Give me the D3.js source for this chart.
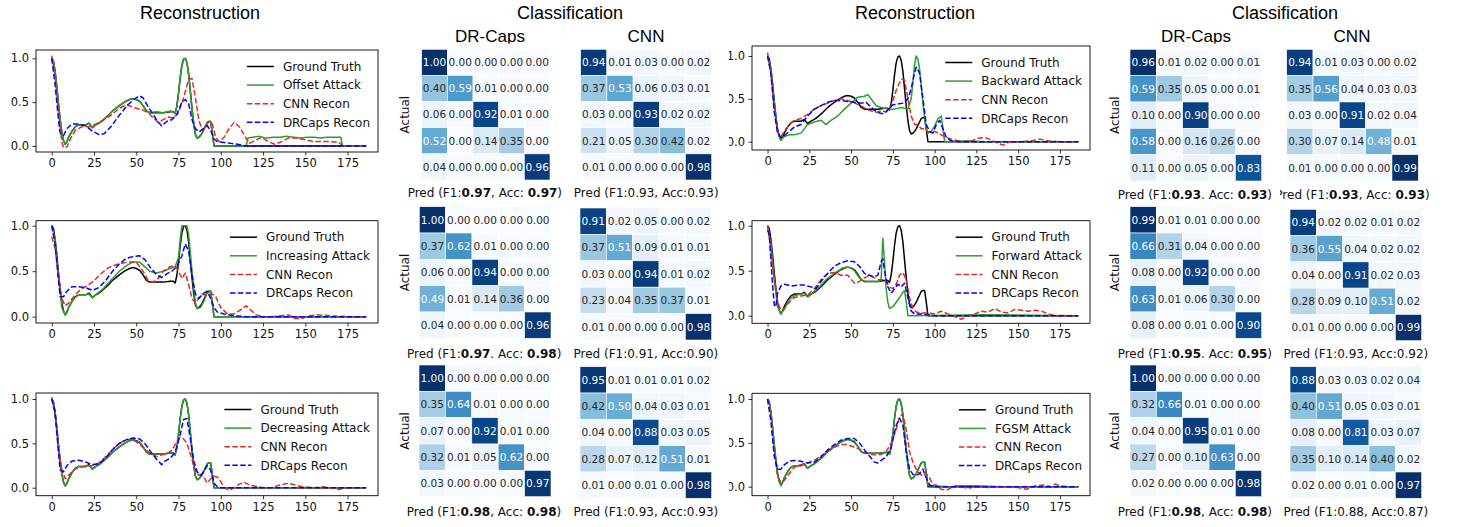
<!DOCTYPE html>
<html><head><meta charset="utf-8">
<script src="https://cdn.jsdelivr.net/npm/d3@7"></script>
<style>body{margin:0;background:#fff}</style>
</head><body>
<script>
// ---------------- DATA ----------------
const xTicks = [0, 25, 50, 75, 100, 125, 150, 175];
const yTicks = [0.0, 0.5, 1.0];
const yTickLabels = ["0.0", "0.5", "1.0"];
const legendNames = ["Ground Truth", "CNN Recon", "DRCaps Recon"];
const attackNames = ["Offset Attack", "Increasing Attack", "Decreasing Attack", "Backward Attack", "Forward Attack", "FGSM Attack"];
const sectionTitles = ["Reconstruction", "Classification", "Reconstruction", "Classification"];
const modelNames = ["DR-Caps", "CNN"];

const groundTruth = [[0,1.0],[1,0.97],[2,0.85],[3,0.68],[4,0.48],[5,0.3],[6,0.15],[7,0.06],[8,0.02],[9,0.05],[10,0.1],[12,0.17],[14,0.22],[16,0.24],[18,0.24],[20,0.24],[22,0.26],[24,0.21],[26,0.24],[28,0.26],[30,0.29],[33,0.34],[36,0.4],[40,0.46],[43,0.5],[46,0.53],[48,0.54],[50,0.53],[52,0.51],[54,0.46],[56,0.4],[58,0.38],[62,0.38],[66,0.38],[70,0.39],[72,0.39],[73,0.37],[74,0.45],[75,0.6],[76,0.78],[77,0.92],[78,0.99],[79,1.0],[80,0.95],[81,0.82],[82,0.62],[83,0.42],[84,0.25],[85,0.13],[86,0.09],[87,0.1],[88,0.12],[89,0.15],[90,0.19],[91,0.23],[92,0.27],[93,0.28],[94,0.28],[95,0.15],[96,0.0],[186,0.0]];

const offsetAttack = [[0,1.0],[1,0.97],[2,0.85],[3,0.68],[4,0.48],[5,0.3],[6,0.15],[7,0.06],[8,0.02],[9,0.05],[10,0.1],[12,0.17],[14,0.22],[16,0.24],[18,0.24],[20,0.24],[22,0.26],[24,0.21],[26,0.24],[28,0.26],[30,0.29],[33,0.34],[36,0.4],[40,0.46],[43,0.5],[46,0.53],[48,0.54],[50,0.53],[52,0.51],[54,0.46],[56,0.4],[58,0.38],[62,0.39],[66,0.38],[70,0.4],[72,0.39],[73,0.37],[74,0.45],[75,0.6],[76,0.78],[77,0.92],[78,0.99],[79,1.0],[80,0.95],[81,0.82],[82,0.62],[83,0.42],[84,0.25],[85,0.13],[86,0.09],[87,0.1],[88,0.12],[89,0.15],[90,0.19],[91,0.23],[92,0.27],[93,0.28],[94,0.28],[95,0.15],[96,0.0],[115,0.0],[116,0.09],[119,0.1],[123,0.11],[127,0.09],[131,0.1],[135,0.1],[139,0.11],[143,0.1],[147,0.09],[151,0.1],[155,0.1],[159,0.09],[163,0.1],[167,0.1],[171,0.1],[172,0.0],[186,0.0]];
const cnnOffset = [[0,1.03],[2,0.8],[4,0.4],[6,0.05],[7,-0.02],[9,-0.01],[11,0.08],[14,0.18],[18,0.22],[22,0.22],[26,0.25],[30,0.29],[35,0.35],[40,0.43],[44,0.47],[47,0.45],[50,0.43],[54,0.41],[57,0.38],[60,0.32],[63,0.27],[66,0.3],[69,0.33],[72,0.32],[75,0.38],[78,0.55],[81,0.76],[83,0.77],[85,0.55],[87,0.3],[89,0.18],[91,0.22],[93,0.28],[95,0.25],[97,0.1],[99,0.05],[102,0.1],[105,0.2],[108,0.27],[111,0.22],[114,0.12],[117,0.03],[120,0.06],[124,0.1],[128,0.05],[132,0.02],[136,0.05],[140,0.09],[145,0.09],[150,0.07],[155,0.05],[160,0.05],[165,0.05],[170,0.04],[172,0.0],[176,0.0],[186,0.0]];
const drOffset = [[0,1.0],[2,0.7],[4,0.3],[5,0.15],[7,0.12],[9,0.2],[12,0.25],[16,0.25],[20,0.23],[24,0.17],[28,0.13],[31,0.14],[35,0.22],[40,0.35],[45,0.47],[50,0.55],[52,0.57],[54,0.55],[57,0.45],[60,0.36],[63,0.27],[65,0.23],[68,0.28],[71,0.3],[74,0.36],[77,0.5],[79,0.53],[81,0.48],[83,0.3],[85,0.2],[87,0.16],[90,0.2],[92,0.23],[94,0.18],[96,0.08],[98,0.05],[102,0.04],[106,0.03],[110,0.02],[115,0.0],[186,0.0]];

const increasingAttack = [[0,1.0],[2,0.85],[4,0.45],[6,0.1],[8,0.02],[10,0.1],[13,0.2],[16,0.24],[20,0.24],[22,0.25],[24,0.21],[26,0.24],[30,0.3],[35,0.4],[40,0.5],[45,0.57],[48,0.6],[52,0.6],[55,0.55],[58,0.5],[62,0.48],[66,0.5],[70,0.53],[73,0.55],[75,0.65],[76,0.85],[77,1.0],[80,1.0],[81,0.9],[83,0.5],[85,0.15],[86,0.09],[88,0.1],[90,0.17],[92,0.26],[94,0.28],[95,0.15],[96,0.0],[186,0.0]];
const cnnIncreasing = [[0,0.88],[2,0.75],[4,0.45],[6,0.2],[8,0.12],[10,0.15],[13,0.22],[16,0.28],[20,0.33],[24,0.38],[28,0.45],[32,0.52],[36,0.56],[40,0.58],[45,0.6],[50,0.6],[54,0.5],[57,0.4],[60,0.38],[63,0.42],[66,0.5],[70,0.55],[73,0.56],[75,0.5],[77,0.42],[79,0.48],[81,0.35],[83,0.2],[85,0.15],[87,0.2],[89,0.25],[92,0.23],[95,0.25],[97,0.22],[100,0.1],[104,0.03],[108,0.03],[112,0.08],[115,0.12],[118,0.07],[121,0.02],[125,0.0],[130,0.0],[135,0.01],[140,0.02],[144,-0.02],[148,-0.02],[152,0.01],[158,0.02],[165,0.01],[175,0.0],[186,0.0]];
const drIncreasing = [[0,1.0],[2,0.8],[4,0.4],[5,0.22],[7,0.22],[9,0.28],[12,0.33],[16,0.33],[20,0.32],[24,0.29],[28,0.32],[32,0.4],[36,0.5],[40,0.58],[44,0.64],[48,0.66],[52,0.67],[55,0.63],[58,0.55],[62,0.46],[65,0.43],[68,0.47],[71,0.5],[74,0.55],[77,0.67],[79,0.8],[81,0.72],[83,0.45],[85,0.25],[87,0.2],[90,0.26],[92,0.28],[94,0.2],[96,0.1],[98,0.05],[102,0.03],[108,0.01],[115,0.0],[186,0.0]];

const decreasingAttack = [[0,1.0],[1,0.97],[2,0.85],[3,0.68],[4,0.48],[5,0.3],[6,0.15],[7,0.06],[8,0.02],[9,0.05],[10,0.1],[12,0.17],[14,0.22],[16,0.24],[18,0.24],[20,0.24],[22,0.25],[24,0.21],[26,0.24],[28,0.26],[30,0.29],[33,0.34],[36,0.4],[40,0.46],[43,0.5],[46,0.53],[48,0.54],[50,0.52],[52,0.52],[54,0.46],[56,0.4],[58,0.38],[62,0.38],[66,0.38],[70,0.39],[72,0.39],[73,0.37],[74,0.45],[75,0.6],[76,0.78],[77,0.92],[78,0.99],[79,1.0],[80,0.95],[81,0.82],[82,0.62],[83,0.42],[84,0.25],[85,0.13],[86,0.09],[87,0.1],[88,0.12],[89,0.15],[90,0.19],[91,0.23],[92,0.27],[93,0.28],[94,0.28],[95,0.15],[96,0.0],[186,0.0]];
const cnnDecreasing = [[0,1.02],[2,0.8],[4,0.45],[6,0.2],[8,0.1],[10,0.14],[13,0.2],[16,0.23],[20,0.24],[24,0.25],[28,0.28],[32,0.35],[36,0.43],[40,0.5],[44,0.54],[47,0.55],[50,0.52],[53,0.47],[56,0.42],[59,0.38],[62,0.35],[65,0.37],[68,0.38],[71,0.42],[74,0.52],[76,0.57],[78,0.55],[80,0.5],[82,0.38],[84,0.25],[86,0.15],[88,0.14],[90,0.12],[92,0.05],[94,0.1],[96,0.13],[98,0.12],[100,0.07],[102,0.0],[105,-0.03],[108,0.0],[111,0.04],[114,0.06],[117,0.03],[120,0.02],[125,0.0],[130,0.0],[135,0.03],[140,0.05],[144,0.03],[148,0.01],[155,0.0],[160,0.01],[165,0.0],[170,-0.02],[175,0.0],[186,0.0]];
const drDecreasing = [[0,1.0],[2,0.85],[4,0.4],[5,0.2],[7,0.18],[9,0.25],[12,0.3],[16,0.31],[20,0.29],[24,0.26],[28,0.27],[32,0.34],[36,0.43],[40,0.5],[44,0.54],[48,0.56],[52,0.55],[55,0.5],[58,0.42],[62,0.32],[65,0.26],[67,0.3],[70,0.33],[73,0.4],[76,0.6],[78,0.77],[80,0.78],[82,0.55],[84,0.3],[86,0.18],[88,0.14],[90,0.18],[92,0.25],[94,0.2],[96,0.05],[98,0.01],[100,0.0],[186,0.0]];

const backwardAttack = [[0,1.0],[2,0.85],[4,0.45],[6,0.12],[8,0.02],[10,0.06],[13,0.08],[16,0.08],[20,0.1],[24,0.2],[28,0.23],[32,0.25],[35,0.2],[38,0.25],[42,0.3],[46,0.38],[50,0.45],[54,0.52],[58,0.53],[60,0.55],[62,0.5],[65,0.42],[68,0.4],[72,0.38],[76,0.38],[80,0.4],[84,0.38],[86,0.5],[87,0.7],[88,0.9],[89,1.0],[90,0.96],[91,0.85],[92,0.65],[93,0.45],[94,0.27],[95,0.15],[96,0.1],[98,0.12],[100,0.18],[102,0.27],[104,0.3],[105,0.15],[106,0.0],[120,0.01],[130,0.0],[186,0.0]];
const cnnBackward = [[0,1.04],[2,0.8],[4,0.4],[6,0.12],[8,0.05],[10,0.12],[13,0.2],[16,0.25],[20,0.27],[24,0.32],[28,0.38],[32,0.42],[36,0.45],[40,0.48],[44,0.5],[48,0.48],[52,0.45],[56,0.42],[59,0.38],[62,0.36],[65,0.34],[68,0.36],[71,0.35],[74,0.42],[77,0.6],[80,0.73],[82,0.72],[84,0.5],[86,0.3],[88,0.2],[90,0.2],[92,0.15],[94,0.15],[96,0.12],[98,0.1],[100,0.12],[102,0.1],[104,0.08],[107,0.05],[110,0.03],[114,0.01],[118,0.0],[122,0.01],[126,0.04],[130,0.05],[134,0.02],[138,-0.02],[141,-0.04],[144,-0.01],[150,0.0],[158,0.01],[163,0.03],[168,0.01],[175,0.0],[186,0.0]];
const drBackward = [[0,1.0],[2,0.8],[4,0.35],[6,0.1],[8,0.05],[10,0.07],[13,0.12],[16,0.17],[20,0.2],[24,0.3],[28,0.38],[32,0.42],[36,0.46],[40,0.48],[44,0.48],[48,0.47],[52,0.46],[56,0.45],[59,0.46],[62,0.4],[65,0.35],[68,0.33],[70,0.33],[72,0.37],[75,0.43],[78,0.44],[81,0.45],[84,0.5],[86,0.62],[88,0.8],[89,0.87],[91,0.8],[93,0.5],[95,0.2],[97,0.12],[99,0.1],[101,0.2],[103,0.25],[105,0.15],[107,0.05],[110,0.01],[115,0.0],[186,0.0]];

const forwardAttack = [[0,1.0],[2,0.8],[4,0.4],[6,0.1],[8,0.02],[10,0.07],[13,0.18],[16,0.22],[20,0.24],[22,0.25],[24,0.21],[26,0.24],[30,0.3],[35,0.4],[40,0.47],[45,0.53],[48,0.54],[50,0.53],[52,0.5],[55,0.42],[58,0.38],[62,0.38],[66,0.38],[68,0.4],[69,0.86],[70,0.6],[71,0.3],[72,0.15],[73,0.08],[75,0.1],[77,0.15],[79,0.2],[81,0.26],[82,0.28],[83,0.15],[84,0.0],[130,0.01],[186,0.0]];
const cnnForward = [[0,1.0],[2,0.75],[4,0.4],[6,0.15],[8,0.06],[10,0.08],[13,0.15],[16,0.2],[20,0.22],[24,0.23],[28,0.3],[32,0.4],[36,0.47],[40,0.48],[44,0.45],[48,0.45],[52,0.36],[55,0.38],[58,0.42],[61,0.45],[64,0.42],[67,0.4],[70,0.4],[73,0.32],[75,0.3],[77,0.35],[79,0.45],[81,0.48],[83,0.4],[85,0.2],[87,0.08],[89,0.04],[92,0.03],[96,0.03],[100,0.02],[104,0.05],[108,0.02],[112,-0.01],[116,-0.04],[120,0.0],[124,0.02],[128,0.05],[132,0.04],[136,0.08],[140,0.04],[144,0.03],[148,0.07],[152,0.06],[156,0.05],[160,0.06],[164,0.05],[168,0.02],[172,0.0],[176,-0.01],[180,0.0],[186,0.0]];
const drForward = [[0,0.95],[1,0.9],[3,0.35],[4,0.12],[5,0.1],[6,0.25],[8,0.33],[10,0.35],[14,0.33],[18,0.34],[22,0.34],[26,0.32],[29,0.3],[32,0.38],[36,0.47],[40,0.55],[44,0.59],[48,0.61],[52,0.6],[55,0.55],[58,0.47],[61,0.45],[64,0.43],[66,0.45],[68,0.6],[69,0.63],[70,0.5],[72,0.32],[74,0.25],[76,0.3],[78,0.35],[80,0.32],[82,0.36],[84,0.2],[86,0.05],[88,0.02],[92,0.02],[96,0.01],[100,0.0],[186,0.0]];

const fgsmAttack = [[0,1.0],[1,0.97],[2,0.85],[3,0.68],[4,0.48],[5,0.3],[6,0.15],[7,0.06],[8,0.01],[9,0.05],[10,0.1],[12,0.17],[14,0.22],[16,0.24],[18,0.24],[20,0.25],[22,0.25],[24,0.21],[26,0.24],[28,0.26],[30,0.29],[33,0.34],[36,0.4],[40,0.46],[43,0.5],[46,0.53],[48,0.54],[50,0.53],[52,0.52],[54,0.46],[56,0.4],[58,0.38],[62,0.38],[66,0.38],[70,0.39],[72,0.39],[73,0.37],[74,0.45],[75,0.6],[76,0.78],[77,0.92],[78,0.99],[79,1.0],[80,0.95],[81,0.82],[82,0.62],[83,0.42],[84,0.25],[85,0.13],[86,0.09],[87,0.1],[88,0.12],[89,0.15],[90,0.19],[91,0.23],[92,0.27],[93,0.28],[94,0.28],[95,0.15],[96,0.01],[110,0.0],[115,0.01],[125,0.01],[140,0.0],[186,0.0]];
const cnnFgsm = [[0,1.0],[2,0.8],[4,0.4],[6,0.12],[8,0.05],[10,0.07],[13,0.15],[16,0.22],[20,0.25],[24,0.27],[28,0.3],[32,0.35],[36,0.4],[40,0.45],[44,0.48],[48,0.48],[52,0.45],[56,0.42],[59,0.38],[62,0.37],[65,0.36],[68,0.37],[71,0.4],[74,0.5],[77,0.65],[79,0.8],[81,0.83],[83,0.65],[85,0.4],[87,0.28],[89,0.2],[91,0.15],[93,0.12],[95,0.15],[97,0.1],[99,0.02],[101,0.02],[104,-0.03],[107,-0.04],[110,-0.01],[113,0.01],[116,0.0],[120,-0.02],[124,0.0],[128,0.0],[132,-0.01],[136,0.0],[140,0.0],[145,0.0],[150,-0.01],[155,-0.03],[160,0.01],[165,0.02],[170,0.0],[172,0.03],[175,0.01],[180,0.0],[186,0.0]];
const drFgsm = [[0,1.0],[2,0.75],[4,0.35],[6,0.2],[8,0.2],[10,0.25],[13,0.29],[16,0.3],[20,0.29],[24,0.27],[28,0.28],[32,0.34],[36,0.42],[40,0.48],[44,0.53],[48,0.55],[52,0.55],[55,0.5],[58,0.42],[61,0.35],[64,0.28],[66,0.27],[68,0.3],[71,0.34],[74,0.45],[77,0.7],[79,0.78],[81,0.7],[83,0.4],[85,0.2],[87,0.14],[89,0.13],[91,0.15],[93,0.2],[95,0.1],[97,0.02],[100,0.0],[186,0.0]];

const attackSeries = [offsetAttack, increasingAttack, decreasingAttack, backwardAttack, forwardAttack, fgsmAttack];
const cnnSeries = [cnnOffset, cnnIncreasing, cnnDecreasing, cnnBackward, cnnForward, cnnFgsm];
const drSeries = [drOffset, drIncreasing, drDecreasing, drBackward, drForward, drFgsm];

// confusion matrices (rows: actual, cols: predicted)
const drMatrices = [
 [[1.00,0.00,0.00,0.00,0.00],[0.40,0.59,0.01,0.00,0.00],[0.06,0.00,0.92,0.01,0.00],[0.52,0.00,0.14,0.35,0.00],[0.04,0.00,0.00,0.00,0.96]],
 [[1.00,0.00,0.00,0.00,0.00],[0.37,0.62,0.01,0.00,0.00],[0.06,0.00,0.94,0.00,0.00],[0.49,0.01,0.14,0.36,0.00],[0.04,0.00,0.00,0.00,0.96]],
 [[1.00,0.00,0.00,0.00,0.00],[0.35,0.64,0.01,0.00,0.00],[0.07,0.00,0.92,0.01,0.00],[0.32,0.01,0.05,0.62,0.00],[0.03,0.00,0.00,0.00,0.97]],
 [[0.96,0.01,0.02,0.00,0.01],[0.59,0.35,0.05,0.00,0.01],[0.10,0.00,0.90,0.00,0.00],[0.58,0.00,0.16,0.26,0.00],[0.11,0.00,0.05,0.00,0.83]],
 [[0.99,0.01,0.01,0.00,0.00],[0.66,0.31,0.04,0.00,0.00],[0.08,0.00,0.92,0.00,0.00],[0.63,0.01,0.06,0.30,0.00],[0.08,0.00,0.01,0.00,0.90]],
 [[1.00,0.00,0.00,0.00,0.00],[0.32,0.66,0.01,0.00,0.00],[0.04,0.00,0.95,0.01,0.00],[0.27,0.00,0.10,0.63,0.00],[0.02,0.00,0.00,0.00,0.98]]
];
const cnnMatrices = [
 [[0.94,0.01,0.03,0.00,0.02],[0.37,0.53,0.06,0.03,0.01],[0.03,0.00,0.93,0.02,0.02],[0.21,0.05,0.30,0.42,0.02],[0.01,0.00,0.00,0.00,0.98]],
 [[0.91,0.02,0.05,0.00,0.02],[0.37,0.51,0.09,0.01,0.01],[0.03,0.00,0.94,0.01,0.02],[0.23,0.04,0.35,0.37,0.01],[0.01,0.00,0.00,0.00,0.98]],
 [[0.95,0.01,0.01,0.01,0.02],[0.42,0.50,0.04,0.03,0.01],[0.04,0.00,0.88,0.03,0.05],[0.28,0.07,0.12,0.51,0.01],[0.01,0.00,0.01,0.00,0.98]],
 [[0.94,0.01,0.03,0.00,0.02],[0.35,0.56,0.04,0.03,0.03],[0.03,0.00,0.91,0.02,0.04],[0.30,0.07,0.14,0.48,0.01],[0.01,0.00,0.00,0.00,0.99]],
 [[0.94,0.02,0.02,0.01,0.02],[0.36,0.55,0.04,0.02,0.02],[0.04,0.00,0.91,0.02,0.03],[0.28,0.09,0.10,0.51,0.02],[0.01,0.00,0.00,0.00,0.99]],
 [[0.88,0.03,0.03,0.02,0.04],[0.40,0.51,0.05,0.03,0.01],[0.08,0.00,0.81,0.03,0.07],[0.35,0.10,0.14,0.40,0.02],[0.02,0.00,0.01,0.00,0.97]]
];
const drF1 = ["0.97","0.97","0.98","0.93","0.95","0.98"];
const drAcc = ["0.97","0.98","0.98","0.93","0.95","0.98"];
const drSep = [", ", ". ", ", ", ". ", ". ", ", "];
const cnnF1 = ["0.93","0.91","0.93","0.93","0.93","0.88"];
const cnnAcc = ["0.93","0.90","0.93","0.93","0.92","0.87"];
const cnnBold = [false,false,false,true,false,false];

// ---------------- LAYOUT ----------------
const plotBoxes = [
 {x0:36, x1:378, top:50, bottom:152, v1:58.3, v0:146},
 {x0:36, x1:378, top:220.7, bottom:323, v1:225.7, v0:316.7},
 {x0:36, x1:378, top:393, bottom:495.7, v1:399, v0:487.7},
 {x0:752, x1:1090, top:46, bottom:150, v1:56, v0:141.7, clipLabels:729},
 {x0:752, x1:1090, top:220.7, bottom:323.3, v1:225.7, v0:315.7, clipLabels:729},
 {x0:752, x1:1090, top:393.3, bottom:495.7, v1:399, v0:486.7, clipLabels:729}
];
const drBoxes = [
 {x0:421.7,x1:550,y0:49.3,y1:180,py:197,ax:405},
 {x0:419.3,x1:551,y0:206.7,y1:338.3,py:357.5,ax:405},
 {x0:419,x1:551,y0:365,y1:496.7,py:516,ax:405},
 {x0:1130,x1:1261.7,y0:49.3,y1:181,py:199,ax:1115},
 {x0:1130,x1:1261.7,y0:206.7,y1:338.3,py:358,ax:1115},
 {x0:1130,x1:1261.7,y0:365,y1:496.7,py:516,ax:1115}
];
const cnnBoxes = [
 {x0:580.7,x1:711.7,y0:49.3,y1:180,py:197},
 {x0:580,x1:711.7,y0:208,y1:340,py:357.5},
 {x0:580,x1:711.7,y0:366.7,y1:498.3,py:516},
 {x0:1286.7,x1:1418.3,y0:49.3,y1:181,py:199,clipLeft:1280},
 {x0:1290,x1:1421.7,y0:209.3,y1:340.7,py:358},
 {x0:1290,x1:1421.7,y0:366.7,y1:498.3,py:516}
];

const W = 1465, H = 527;
const svg = d3.select("body").append("svg").attr("width", W).attr("height", H);
svg.append("rect").attr("width", W).attr("height", H).attr("fill", "#fff");
const defs = svg.append("defs");
const FONT = "DejaVu Sans";
const TITLEFONT = "Liberation Sans, Arial, Helvetica, sans-serif";

// titles
const titleX = [200, 570, 915, 1285];
sectionTitles.forEach((t, i) => {
  svg.append("text").attr("x", titleX[i]).attr("y", 19).attr("text-anchor", "middle")
    .attr("font-family", TITLEFONT).attr("font-size", 18).attr("fill", "#000").text(t);
});
// subtitles (DR-Caps bottom clipped by matrix image)
defs.append("clipPath").attr("id", "subclip").append("rect").attr("x", 0).attr("y", 0).attr("width", W).attr("height", 43.5);
const subG = svg.append("g").attr("clip-path", "url(#subclip)");
[[490, modelNames[0]], [646, modelNames[1]], [1196, modelNames[0]], [1352, modelNames[1]]].forEach(([x, t]) => {
  subG.append("text").attr("x", x).attr("y", 42).attr("text-anchor", "middle")
    .attr("font-family", TITLEFONT).attr("font-size", 17).attr("fill", "#000").text(t);
});

// ---------------- LINE PLOTS ----------------
function drawPlot(i) {
  const B = plotBoxes[i];
  const x = d3.scaleLinear().domain([-9.3, 193]).range([B.x0, B.x1]);
  const y = d3.scaleLinear().domain([0, 1]).range([B.v0, B.v1]);
  const g = svg.append("g");
  const cid = "pclip" + i;
  defs.append("clipPath").attr("id", cid).append("rect")
    .attr("x", B.x0).attr("y", B.top).attr("width", B.x1 - B.x0).attr("height", B.bottom - B.top);
  const line = d3.line().x(d => x(d[0])).y(d => y(d[1]));
  const series = [
    {data: groundTruth, color: "#000000", dash: null},
    {data: attackSeries[i], color: "#2ca02c", dash: null},
    {data: cnnSeries[i], color: "#e3292a", dash: "5.5,2.4"},
    {data: drSeries[i], color: "#0000ff", dash: "5.5,2.4"}
  ];
  const lg = g.append("g").attr("clip-path", `url(#${cid})`);
  series.forEach(s => {
    lg.append("path").attr("d", line(s.data)).attr("fill", "none")
      .attr("stroke", s.color).attr("stroke-width", 1.5)
      .attr("stroke-linejoin", "round").attr("stroke-dasharray", s.dash);
  });
  // axes
  const xa = g.append("g").attr("transform", `translate(0,${B.bottom})`)
    .call(d3.axisBottom(x).tickValues(xTicks).tickSize(3.5).tickPadding(3.5).tickFormat(d3.format("d")));
  const ya = g.append("g").attr("transform", `translate(${B.x0},0)`)
    .call(d3.axisLeft(y).tickValues(yTicks).tickSize(3.5).tickPadding(3.5).tickFormat((d, k) => yTickLabels[k]));
  [xa, ya].forEach(a => {
    a.select(".domain").remove();
    a.attr("font-family", FONT).attr("font-size", 11.5);
    a.selectAll("line").attr("stroke", "#000").attr("stroke-width", 0.8);
    a.selectAll("text").attr("fill", "#111");
  });
  if (B.clipLabels) {
    // clip rect in the axis group's local coordinates (translated by x0)
    const lc = "lclip" + i;
    defs.append("clipPath").attr("id", lc).append("rect")
      .attr("x", B.clipLabels - B.x0).attr("y", B.top - 10).attr("width", B.x0 - B.clipLabels + 5).attr("height", B.bottom - B.top + 20);
    ya.attr("clip-path", `url(#${lc})`);
  }
  g.append("rect").attr("x", B.x0).attr("y", B.top).attr("width", B.x1 - B.x0).attr("height", B.bottom - B.top)
    .attr("fill", "none").attr("stroke", "#000").attr("stroke-width", 0.9);
  // legend
  const names = [legendNames[0], attackNames[i], legendNames[1], legendNames[2]];
  const leg = g.append("g");
  const texts = names.map((n, k) => leg.append("text").attr("font-family", FONT).attr("font-size", 12)
    .attr("fill", "#111").attr("y", B.top + 16.5 + k * 18.6).attr("dy", "0.35em").text(n));
  const maxW = d3.max(texts, t => t.node().getComputedTextLength());
  const tx = B.x1 - 8 - maxW;
  texts.forEach(t => t.attr("x", tx));
  series.forEach((s, k) => {
    const yy = B.top + 16.5 + k * 18.6;
    leg.append("line").attr("x1", tx - 36).attr("x2", tx - 9).attr("y1", yy).attr("y2", yy)
      .attr("stroke", s.color).attr("stroke-width", 1.5).attr("stroke-dasharray", s.dash);
  });
}

// ---------------- CONFUSION MATRICES ----------------
function relLum(c) {
  const r = d3.rgb(c);
  const f = v => { v /= 255; return v <= 0.03928 ? v / 12.92 : Math.pow((v + 0.055) / 1.055, 2.4); };
  return 0.2126 * f(r.r) + 0.7152 * f(r.g) + 0.0722 * f(r.b);
}
function drawMatrix(data, M) {
  const idx = d3.range(5);
  const xb = d3.scaleBand().domain(idx).range([M.x0, M.x1]);
  const yb = d3.scaleBand().domain(idx).range([M.y0, M.y1]);
  const color = d3.scaleSequential(d3.interpolateBlues).domain([0, d3.max(data.flat())]);
  const g = svg.append("g");
  data.forEach((row, r) => row.forEach((v, c) => {
    const col = color(v);
    g.append("rect").attr("x", xb(c)).attr("y", yb(r)).attr("width", xb.bandwidth()).attr("height", yb.bandwidth())
      .attr("fill", col).attr("stroke", "#fff").attr("stroke-width", 0.6);
    g.append("text").attr("x", xb(c) + xb.bandwidth() / 2).attr("y", yb(r) + yb.bandwidth() / 2).attr("dy", "0.36em")
      .attr("text-anchor", "middle").attr("font-family", FONT).attr("font-size", 10.5)
      .attr("fill", relLum(col) > 0.408 ? "#262626" : "#ffffff").text(v.toFixed(2));
  }));
  return g;
}
function predLabel(x, y, f1, sep, acc, bold, spaced, clipLeft, id) {
  const t = svg.append("text").attr("x", x).attr("y", y).attr("text-anchor", "middle")
    .attr("font-family", FONT).attr("font-size", 12).attr("fill", "#111");
  t.append("tspan").text("Pred (F1:");
  t.append("tspan").attr("font-weight", bold ? "bold" : "normal").text(f1);
  t.append("tspan").text(sep + "Acc:" + (spaced ? " " : ""));
  t.append("tspan").attr("font-weight", bold ? "bold" : "normal").text(acc);
  t.append("tspan").text(")");
  if (clipLeft) {
    defs.append("clipPath").attr("id", id).append("rect").attr("x", clipLeft).attr("y", y - 20).attr("width", 300).attr("height", 30);
    t.attr("clip-path", `url(#${id})`);
  }
}

for (let i = 0; i < 6; i++) {
  drawPlot(i);
  const D = drBoxes[i], C = cnnBoxes[i];
  drawMatrix(drMatrices[i], D);
  drawMatrix(cnnMatrices[i], C);
  svg.append("text").attr("transform", `translate(${D.ax},${(D.y0 + D.y1) / 2}) rotate(-90)`)
    .attr("text-anchor", "middle").attr("dy", "0.35em").attr("font-family", FONT).attr("font-size", 12)
    .attr("fill", "#111").text("Actual");
  predLabel((D.x0 + D.x1) / 2 - 1, D.py, drF1[i], drSep[i], drAcc[i], true, true, null, null);
  predLabel((C.x0 + C.x1) / 2, C.py, cnnF1[i], ", ", cnnAcc[i], cnnBold[i], cnnBold[i], C.clipLeft, "pc" + i);
}
</script>
</body></html>
